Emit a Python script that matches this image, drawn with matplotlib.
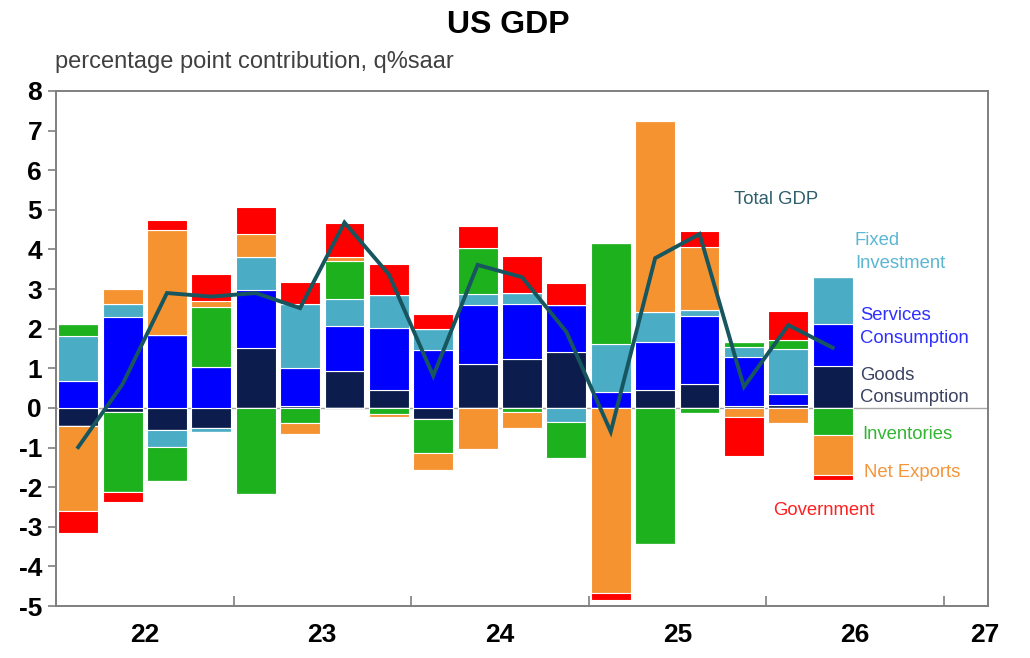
import matplotlib
matplotlib.use("Agg")
import matplotlib.pyplot as plt
import numpy as np
from matplotlib.ticker import FixedLocator, NullFormatter, FixedFormatter

# ---------------- data ----------------
quarters = ["2022Q1", "2022Q2", "2022Q3", "2022Q4",
            "2023Q1", "2023Q2", "2023Q3", "2023Q4",
            "2024Q1", "2024Q2", "2024Q3", "2024Q4",
            "2025Q1", "2025Q2", "2025Q3", "2025Q4",
            "2026Q1", "2026Q2"]

goods_consumption = [-0.46, -0.10, -0.55, -0.51, 1.52, 0.06, 0.92, 0.44, -0.29,
                     1.12, 1.24, 1.41, 0.00, 0.44, 0.61, 0.04, 0.07, 1.06]
services_consumption = [0.68, 2.29, 1.83, 1.03, 1.45, 0.94, 1.14, 1.59, 1.45,
                        1.47, 1.39, 1.18, 0.40, 1.22, 1.71, 1.25, 0.28, 1.05]
fixed_investment = [1.14, 0.33, -0.44, -0.10, 0.84, 1.63, 0.68, 0.81, 0.55,
                    0.28, 0.28, -0.35, 1.21, 0.77, 0.14, 0.26, 1.13, 1.19]
inventories = [0.29, -2.03, -0.85, 1.52, -2.17, -0.37, 0.98, -0.16, -0.85,
               1.16, -0.11, -0.91, 2.56, -3.44, -0.12, 0.11, 0.23, -0.68]
net_exports = [-2.15, 0.38, 2.65, 0.14, 0.59, -0.29, 0.08, -0.07, -0.42,
               -1.04, -0.40, -0.04, -4.68, 4.81, 1.61, -0.24, -0.37, -1.02]
government = [-0.54, -0.25, 0.26, 0.69, 0.68, 0.55, 0.87, 0.80, 0.36,
              0.57, 0.92, 0.56, -0.16, 0.00, 0.39, -0.98, 0.73, -0.13]
total_gdp = [-0.99, 0.60, 2.90, 2.81, 2.90, 2.52, 4.68, 3.37, 0.81,
             3.61, 3.30, 1.92, -0.60, 3.78, 4.39, 0.53, 2.09, 1.52]

year_labels = ["22", "23", "24", "25", "26", "27"]
y_ticks = [8, 7, 6, 5, 4, 3, 2, 1, 0, -1, -2, -3, -4, -5]

# ---------------- style ----------------
series = [
    ("Goods\nConsumption", goods_consumption, "#0c1d4d", "#3b4262"),
    ("Services\nConsumption", services_consumption, "#0000ff", "#2f2fff"),
    ("Fixed\nInvestment", fixed_investment, "#4bacc6", "#5bb6d2"),
    ("Inventories", inventories, "#1db11d", "#33b533"),
    ("Net Exports", net_exports, "#f59331", "#f5953a"),
    ("Government", government, "#ff0000", "#ff2020"),
]

plt.rcParams["font.family"] = ["Liberation Sans", "DejaVu Sans"]
tick_family = ["Liberation Sans Narrow", "Liberation Sans", "DejaVu Sans"]

fig = plt.figure(figsize=(10.3, 6.58), dpi=100)
ax = fig.add_axes([56 / 1030, 1 - 606 / 658, (988 - 56) / 1030, (606 - 91) / 658])

n = len(quarters)
x = np.array([int(q[:4]) + (int(q[-1]) - 1) * 0.25 + 0.125 for q in quarters])
width = 0.225

pos_base = np.zeros(n)
neg_base = np.zeros(n)
for name, vals, col, _ in series:
    v = np.array(vals, dtype=float)
    pos = np.where(v > 0, v, 0)
    neg = np.where(v < 0, v, 0)
    ax.bar(x, pos, width, bottom=pos_base, color=col, edgecolor="white",
           linewidth=0.8, zorder=2)
    ax.bar(x, neg, width, bottom=neg_base, color=col, edgecolor="white",
           linewidth=0.8, zorder=2)
    pos_base += pos
    neg_base += neg

ax.plot(x, total_gdp, color="#17565f", linewidth=2.8, zorder=4,
        solid_joinstyle="miter")

ax.axhline(0, color="#a6a6a6", linewidth=1.0, zorder=1)

ax.set_xlim(2022, 2027.25)
ax.set_ylim(-5, 8)

for sp in ax.spines.values():
    sp.set_color("#7f7f7f")
    sp.set_linewidth(1.4)

ax.set_yticks(y_ticks)
ax.set_yticklabels([str(t) for t in y_ticks], fontsize=19, fontweight="bold",
                   family=tick_family)
ax.tick_params(axis="y", direction="out", length=6, width=1.2,
               color="#7f7f7f", pad=4)

years = [2022, 2023, 2024, 2025, 2026, 2027]
ax.xaxis.set_major_locator(FixedLocator(years))
ax.xaxis.set_major_formatter(NullFormatter())
label_pos = [2022.5, 2023.5, 2024.5, 2025.5, 2026.5, 2027.23]
ax.xaxis.set_minor_locator(FixedLocator(label_pos))
ax.xaxis.set_minor_formatter(FixedFormatter(year_labels))
ax.tick_params(axis="x", which="major", direction="in", length=7, width=1.2,
               color="#7f7f7f")
ax.tick_params(axis="x", which="minor", length=0, pad=12)
for lbl in ax.xaxis.get_minorticklabels():
    lbl.set_fontsize(19)
    lbl.set_fontweight("bold")
    lbl.set_family(tick_family)

# series labels
lab_fs = 13.3
ls2 = 1.45
ax.text(2025.82, 5.25, "Total GDP", color="#2e5f6b", fontsize=lab_fs,
        ha="left", va="center")
ax.text(2026.50, 3.94, "Fixed\nInvestment", color=series[2][3], fontsize=lab_fs,
        ha="left", va="center", linespacing=ls2)
ax.text(2026.53, 2.05, "Services\nConsumption", color=series[1][3], fontsize=lab_fs,
        ha="left", va="center", linespacing=ls2)
ax.text(2026.53, 0.54, "Goods\nConsumption", color=series[0][3], fontsize=lab_fs,
        ha="left", va="center", linespacing=ls2)
ax.text(2026.54, -0.68, "Inventories", color=series[3][3], fontsize=lab_fs,
        ha="left", va="center")
ax.text(2026.55, -1.62, "Net Exports", color=series[4][3], fontsize=lab_fs,
        ha="left", va="center")
ax.text(2026.04, -2.58, "Government", color=series[5][3], fontsize=lab_fs,
        ha="left", va="center")

fig.text(508 / 1030, 1 - 25 / 658, "US GDP", fontsize=23, fontweight="bold",
         ha="center", va="center")
fig.text(55 / 1030, 1 - 62 / 658, "percentage point contribution, q%saar",
         fontsize=17, color="#404040", ha="left", va="center")

fig.savefig("out.png", dpi=100)
